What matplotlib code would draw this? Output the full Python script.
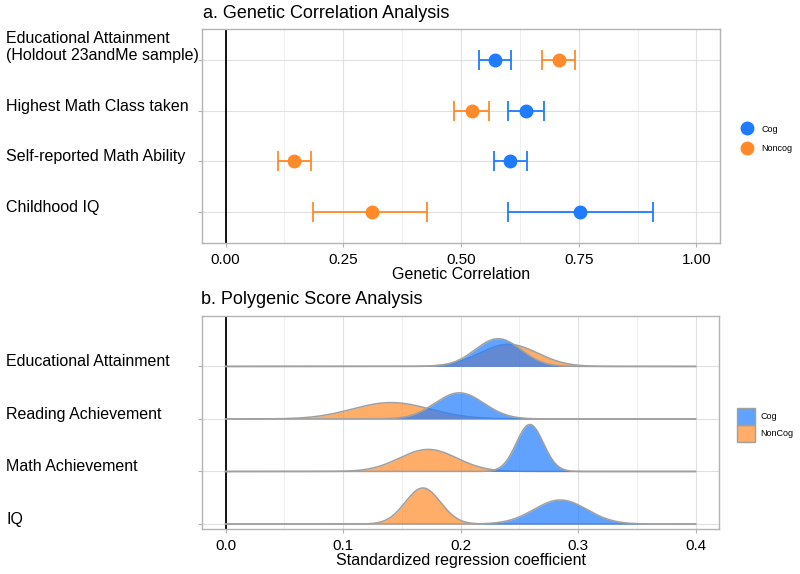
import numpy as np
import matplotlib.pyplot as plt
import matplotlib.transforms as mtransforms
from matplotlib.lines import Line2D
from matplotlib.patches import Patch
from matplotlib.colors import to_rgba
from matplotlib.ticker import MultipleLocator

plt.rcParams['font.family'] = ['Liberation Sans', 'DejaVu Sans']

# a. genetic correlations (point + 95% CI)
traits_a = ["Educational Attainment\n(Holdout 23andMe sample)", "Highest Math Class taken",
            "Self-reported Math Ability", "Childhood IQ"]
cog_rg = np.array([0.572, 0.638, 0.604, 0.752])
cog_lo = np.array([0.538, 0.600, 0.570, 0.600])
cog_hi = np.array([0.606, 0.676, 0.640, 0.907])
noncog_rg = np.array([0.708, 0.523, 0.145, 0.310])
noncog_lo = np.array([0.672, 0.485, 0.111, 0.186])
noncog_hi = np.array([0.742, 0.559, 0.181, 0.428])

# b. polygenic score estimates (mean, sd of the estimate distribution)
traits_b = ["Educational Attainment", "Reading Achievement", "Math Achievement", "IQ"]
cog_mean = [0.232, 0.199, 0.259, 0.285]
cog_sd = [0.0195, 0.0207, 0.0115, 0.0225]
noncog_mean = [0.241, 0.141, 0.1725, 0.168]
noncog_sd = [0.0245, 0.033, 0.0245, 0.015]

cog_col = '#1f7bff'
noncog_col = '#ff8a29'
ridge_alpha = 0.7
ridge_scale = 0.0258
border = '#b3b3b3'

fig = plt.figure(figsize=(8, 5.74), dpi=100)
W, H = 800, 574
ax_a = fig.add_axes([202 / W, 1 - 243 / H, (720 - 202) / W, (243 - 29) / H])
ax_b = fig.add_axes([202 / W, 1 - 529 / H, (719 - 202) / W, (529 - 316) / H])


def style(ax):
    for s in ax.spines.values():
        s.set_color(border)
        s.set_linewidth(1)
    ax.grid(which='major', color='#e0e0e0', lw=0.8)
    ax.grid(which='minor', axis='x', color='#ededed', lw=0.6)
    ax.set_axisbelow(True)
    ax.tick_params(axis='both', which='major', color=border, length=3, labelsize=11, pad=4)
    ax.tick_params(axis='x', which='minor', length=0)
    ax.tick_params(axis='y', labelleft=False)


# ---- panel a
ypos = np.arange(len(traits_a))[::-1]
ax_a.axvline(0, color='black', lw=1.3, zorder=1.5)
ax_a.errorbar(cog_rg, ypos, xerr=[cog_rg - cog_lo, cog_hi - cog_rg], fmt='o', color=cog_col,
              ms=9, capsize=7, elinewidth=1.3, capthick=1.3, zorder=3)
ax_a.errorbar(noncog_rg, ypos, xerr=[noncog_rg - noncog_lo, noncog_hi - noncog_rg], fmt='o',
              color=noncog_col, ms=9, capsize=7, elinewidth=1.3, capthick=1.3, zorder=3)
ax_a.set_xlim(-0.05, 1.05)
ax_a.set_ylim(-0.6, len(traits_a) - 0.4)
ax_a.set_xticks([0, 0.25, 0.5, 0.75, 1.0])
ax_a.set_xticklabels(['0.00', '0.25', '0.50', '0.75', '1.00'])
ax_a.xaxis.set_minor_locator(MultipleLocator(0.125))
ax_a.set_yticks(ypos)
style(ax_a)
ax_a.set_xlabel('Genetic Correlation', fontsize=11.5, labelpad=0)
trans = mtransforms.blended_transform_factory(fig.transFigure, ax_a.transData)
for y, lab in zip(ypos, traits_a):
    ax_a.text(6 / W, y, lab, transform=trans, ha='left', va='baseline', fontsize=11.5,
              linespacing=1.15)
fig.text(203 / W, 1 - 14 / H, 'a. Genetic Correlation Analysis', fontsize=13, ha='left', va='center')

leg_a = [Line2D([], [], marker='o', ls='', color=cog_col, ms=9),
         Line2D([], [], marker='o', ls='', color=noncog_col, ms=9)]
fig.legend(leg_a, ['Cog', 'Noncog'], loc='center left', bbox_to_anchor=(739 / W, 1 - 139 / H),
           frameon=False, fontsize=6.5, handlelength=1.8, handletextpad=0.7, labelspacing=1.2,
           borderpad=0, borderaxespad=0)

# ---- panel b (ridgelines)
xs = np.linspace(0, 0.4, 500)
base = np.arange(len(traits_b))[::-1]
ax_b.axvline(0, color='black', lw=1.3, zorder=1.5)
for i in range(len(traits_b)):
    b = base[i]
    for m, sd, col, z in [(noncog_mean[i], noncog_sd[i], noncog_col, 2), (cog_mean[i], cog_sd[i], cog_col, 3)]:
        dens = np.exp(-0.5 * ((xs - m) / sd) ** 2) / (sd * np.sqrt(2 * np.pi))
        top = b + dens * ridge_scale
        ax_b.fill_between(xs, b, top, color=col, alpha=ridge_alpha, lw=0, zorder=z)
        ax_b.plot(xs, top, color='#a0a0a0', lw=1.1, zorder=z + 0.1)
ax_b.set_xlim(-0.02, 0.42)
ax_b.set_ylim(-0.095, 3.96)
ax_b.set_xticks([0, 0.1, 0.2, 0.3, 0.4])
ax_b.set_xticklabels(['0.0', '0.1', '0.2', '0.3', '0.4'])
ax_b.xaxis.set_minor_locator(MultipleLocator(0.05))
ax_b.set_yticks(base)
style(ax_b)
ax_b.set_xlabel('Standardized regression coefficient', fontsize=11.5, labelpad=0)
trans = mtransforms.blended_transform_factory(fig.transFigure, ax_b.transData)
for y, lab in zip(base, traits_b):
    ax_b.text(6 / W, y, lab, transform=trans, ha='left', va='baseline', fontsize=11.5)
fig.text(201 / W, 1 - 300 / H, 'b. Polygenic Score Analysis', fontsize=13, ha='left', va='center')

leg_b = [Patch(facecolor=to_rgba(cog_col, ridge_alpha), edgecolor='#a0a0a0', lw=1),
         Patch(facecolor=to_rgba(noncog_col, ridge_alpha), edgecolor='#a0a0a0', lw=1)]
fig.legend(leg_b, ['Cog', 'NonCog'], loc='center left', bbox_to_anchor=(737 / W, 1 - 425 / H),
           frameon=False, fontsize=6.5, handlelength=2.0, handleheight=2.6, handletextpad=0.6,
           labelspacing=0, borderpad=0, borderaxespad=0)

fig.savefig('out.png', dpi=100)
